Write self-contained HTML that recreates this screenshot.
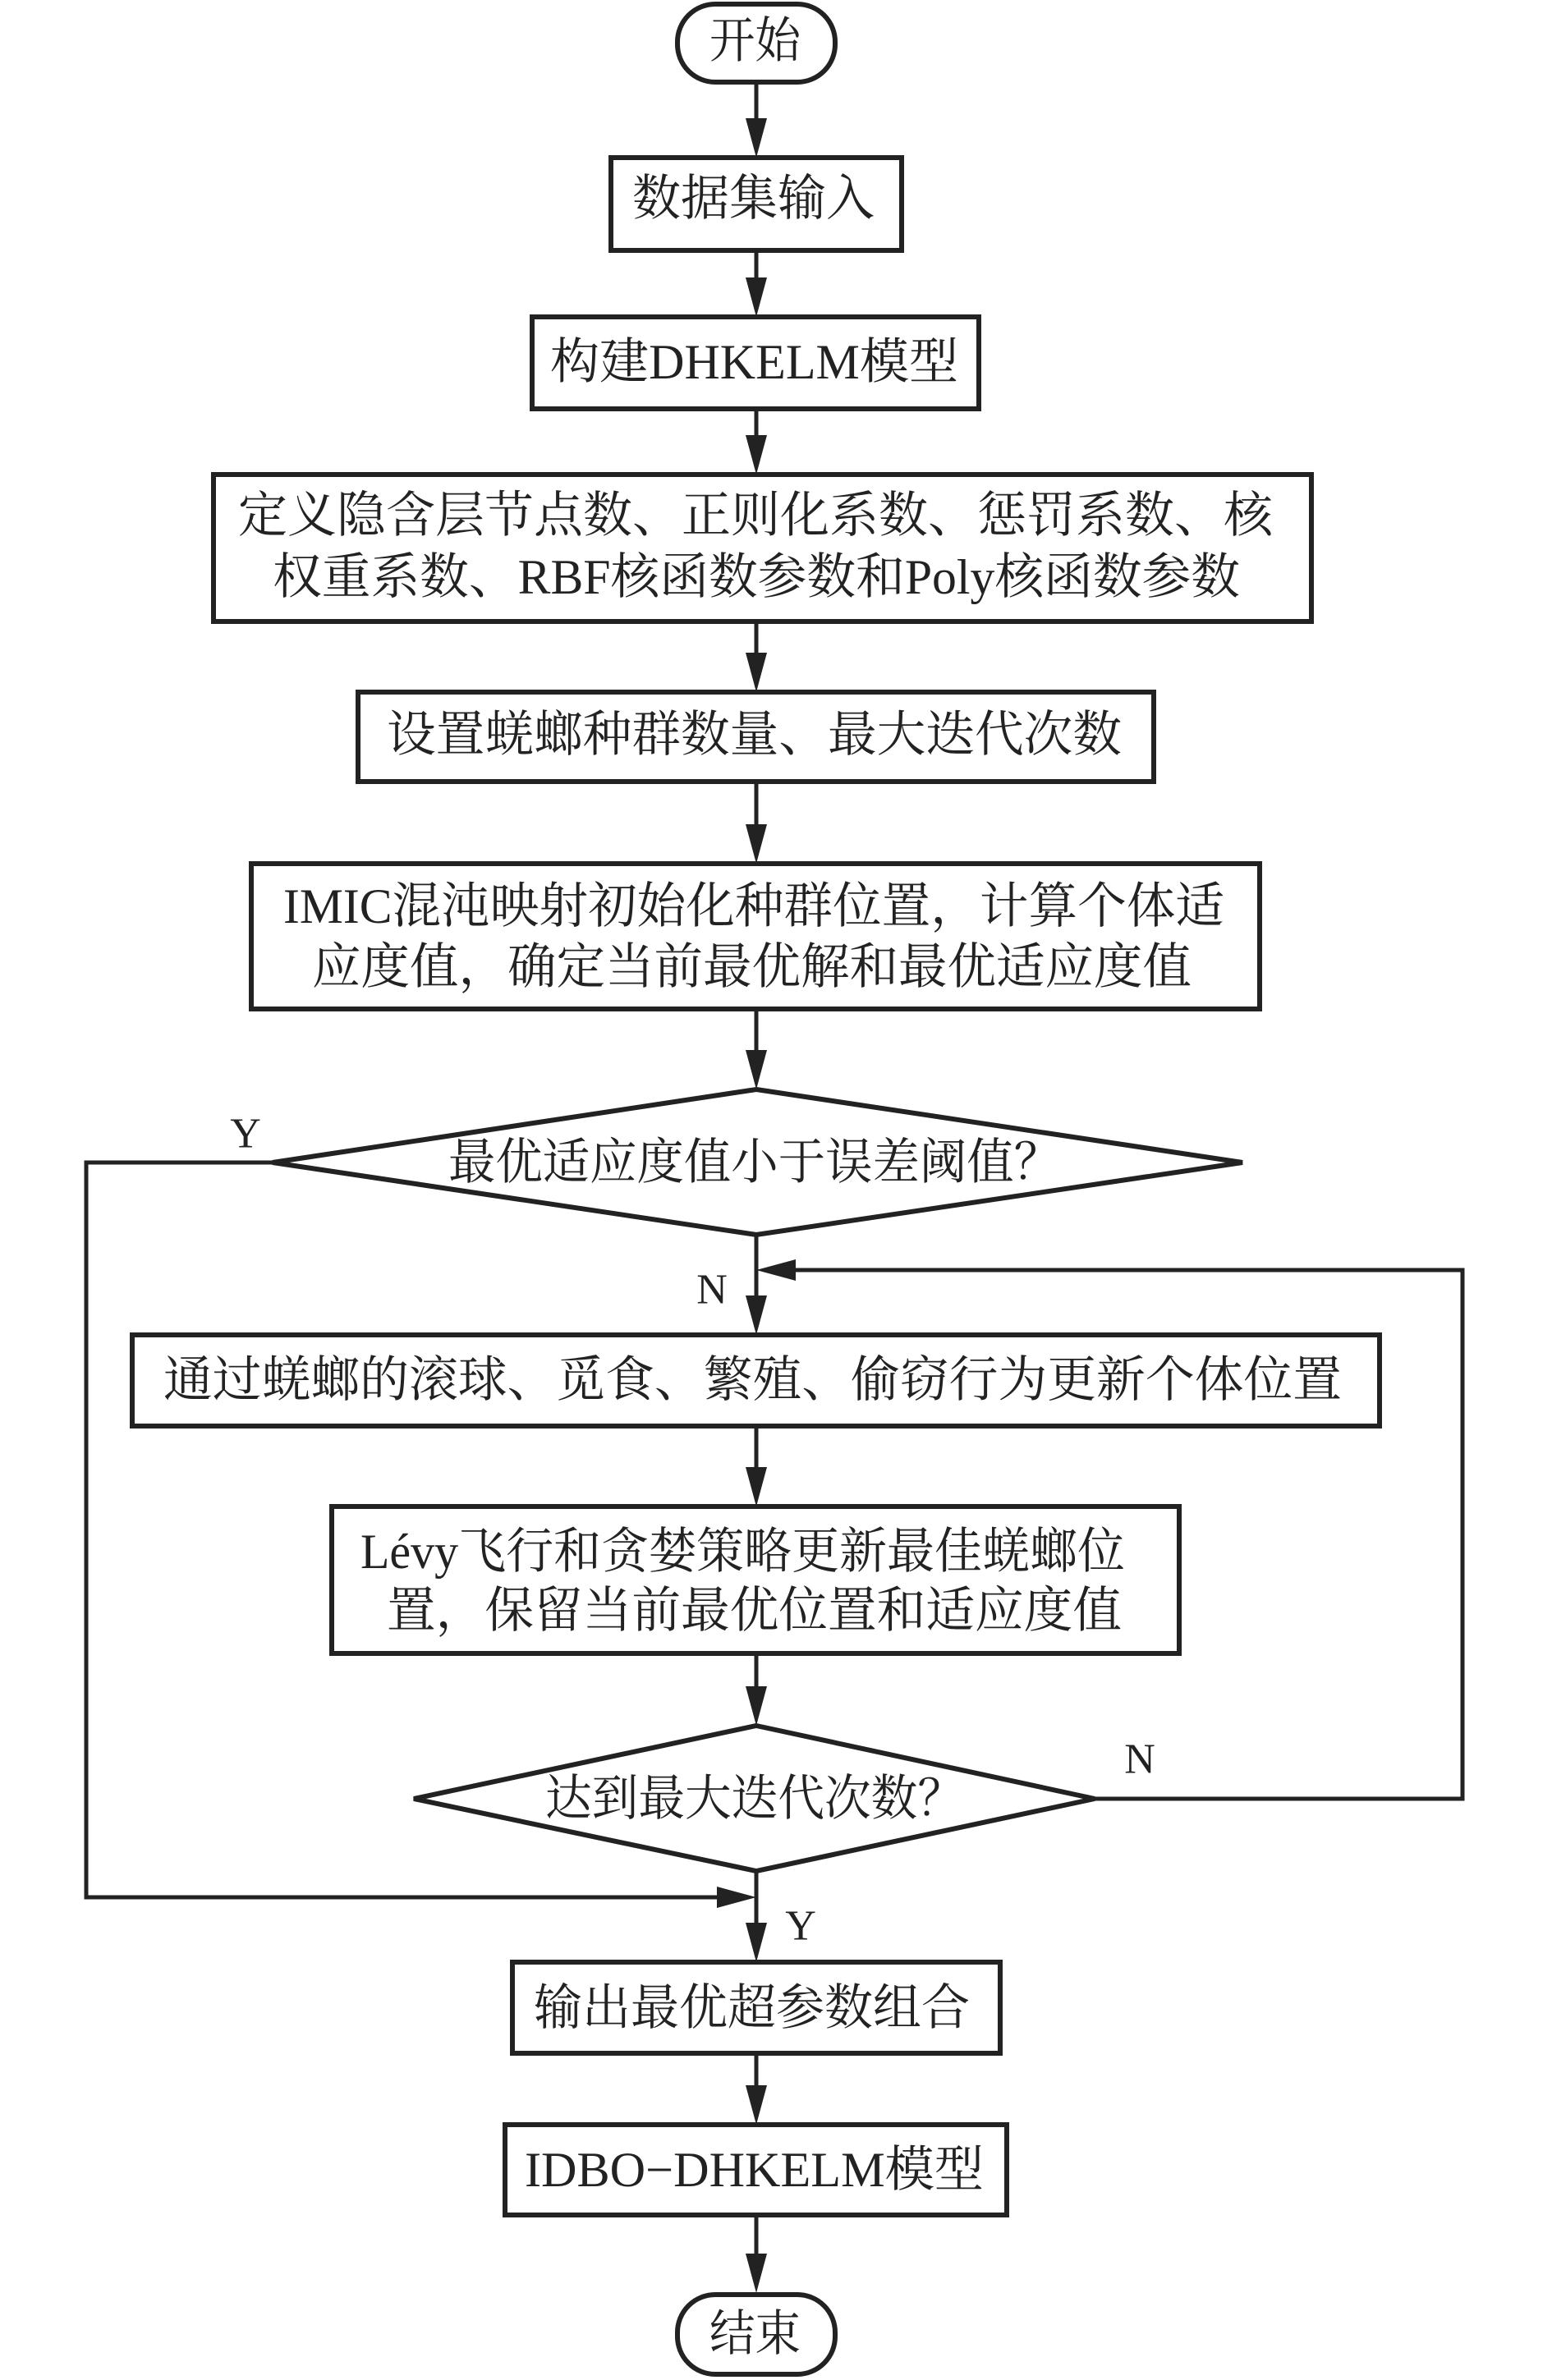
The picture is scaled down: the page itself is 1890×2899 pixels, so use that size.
<!DOCTYPE html>
<html><head><meta charset="utf-8"><style>
html,body{margin:0;padding:0;background:#fff;}
svg{display:block;}
text{font-family:"Liberation Serif","Noto Serif CJK SC",serif;fill:#222;}
</style></head><body>
<svg width="1890" height="2899" viewBox="0 0 1890 2899" xmlns="http://www.w3.org/2000/svg">
<g fill="none" stroke="#222" stroke-width="6">
<rect x="825" y="5" width="192" height="95" rx="46" ry="46"/>
<rect x="744" y="192" width="354" height="113"/>
<rect x="648" y="386" width="544" height="112"/>
<rect x="260" y="578" width="1337" height="179"/>
<rect x="436" y="843" width="969" height="109"/>
<rect x="306" y="1052" width="1228" height="177"/>
<polygon points="921,1327 1513,1416 921,1504 332,1416"/>
<rect x="161" y="1626" width="1519" height="111"/>
<rect x="404" y="1835" width="1032" height="179"/>
<polygon points="921,2102 1333,2191 921,2279 504,2191"/>
<rect x="624" y="2390" width="594" height="111"/>
<rect x="615" y="2588" width="611" height="110"/>
<rect x="825" y="2795" width="192" height="97" rx="46" ry="46"/>
</g>
<g fill="none" stroke="#222" stroke-width="5">
<line x1="921" y1="100" x2="921" y2="150"/>
<line x1="921" y1="305" x2="921" y2="345"/>
<line x1="921" y1="498" x2="921" y2="535"/>
<line x1="921" y1="757" x2="921" y2="800"/>
<line x1="921" y1="952" x2="921" y2="1010"/>
<line x1="921" y1="1229" x2="921" y2="1285"/>
<line x1="921" y1="1504" x2="921" y2="1585"/>
<line x1="921" y1="1737" x2="921" y2="1792"/>
<line x1="921" y1="2014" x2="921" y2="2060"/>
<line x1="921" y1="2279" x2="921" y2="2348"/>
<line x1="921" y1="2501" x2="921" y2="2545"/>
<line x1="921" y1="2698" x2="921" y2="2750"/>
<polyline points="1333,2191 1781,2191 1781,1547 965,1547"/>
<polyline points="332,1416 105,1416 105,2311 878,2311"/>
</g>
<g fill="#222">
<polygon points="908,144 934,144 921,192"/>
<polygon points="908,338 934,338 921,386"/>
<polygon points="908,530 934,530 921,578"/>
<polygon points="908,795 934,795 921,843"/>
<polygon points="908,1004 934,1004 921,1052"/>
<polygon points="908,1279 934,1279 921,1327"/>
<polygon points="908,1578 934,1578 921,1626"/>
<polygon points="908,1787 934,1787 921,1835"/>
<polygon points="908,2054 934,2054 921,2102"/>
<polygon points="908,2342 934,2342 921,2390"/>
<polygon points="908,2540 934,2540 921,2588"/>
<polygon points="908,2745 934,2745 921,2793"/>
<polygon points="969,1534 969,1560 921,1547"/>
<polygon points="873,2298 873,2324 921,2311"/>
</g>
<g font-size="60" dominant-baseline="central">
<text x="864" y="50" textLength="111" lengthAdjust="spacingAndGlyphs">开始</text>
<text x="770" y="242" textLength="295" lengthAdjust="spacingAndGlyphs">数据集输入</text>
<text x="670" y="441" textLength="497" lengthAdjust="spacingAndGlyphs">构建DHKELM模型</text>
<text x="290" y="628" textLength="1260" lengthAdjust="spacingAndGlyphs">定义隐含层节点数、正则化系数、惩罚系数、核</text>
<text x="332" y="703" textLength="1178" lengthAdjust="spacingAndGlyphs">权重系数、RBF核函数参数和Poly核函数参数</text>
<text x="471" y="895" textLength="895" lengthAdjust="spacingAndGlyphs">设置蜣螂种群数量、最大迭代次数</text>
<text x="345" y="1104" textLength="1146" lengthAdjust="spacingAndGlyphs">IMIC混沌映射初始化种群位置，计算个体适</text>
<text x="380" y="1178" textLength="1071" lengthAdjust="spacingAndGlyphs">应度值，确定当前最优解和最优适应度值</text>
<text x="546" y="1416" textLength="746" lengthAdjust="spacingAndGlyphs">最优适应度值小于误差阈值？</text>
<text x="199" y="1681" textLength="1435" lengthAdjust="spacingAndGlyphs">通过蜣螂的滚球、觅食、繁殖、偷窃行为更新个体位置</text>
<text x="439" y="1890" textLength="931" lengthAdjust="spacingAndGlyphs">Lévy飞行和贪婪策略更新最佳蜣螂位</text>
<text x="471" y="1962" textLength="895" lengthAdjust="spacingAndGlyphs">置，保留当前最优位置和适应度值</text>
<text x="664" y="2191" textLength="510" lengthAdjust="spacingAndGlyphs">达到最大迭代次数？</text>
<text x="650" y="2446" textLength="531" lengthAdjust="spacingAndGlyphs">输出最优超参数组合</text>
<text x="639" y="2643" textLength="559" lengthAdjust="spacingAndGlyphs">IDBO−DHKELM模型</text>
<text x="864" y="2843" textLength="111" lengthAdjust="spacingAndGlyphs">结束</text>
</g>
<g font-size="52" dominant-baseline="central" text-anchor="middle">
<text x="299" y="1381">Y</text>
<text x="867" y="1571">N</text>
<text x="1388" y="2143">N</text>
<text x="975" y="2346">Y</text>
</g>
</svg>
</body></html>
